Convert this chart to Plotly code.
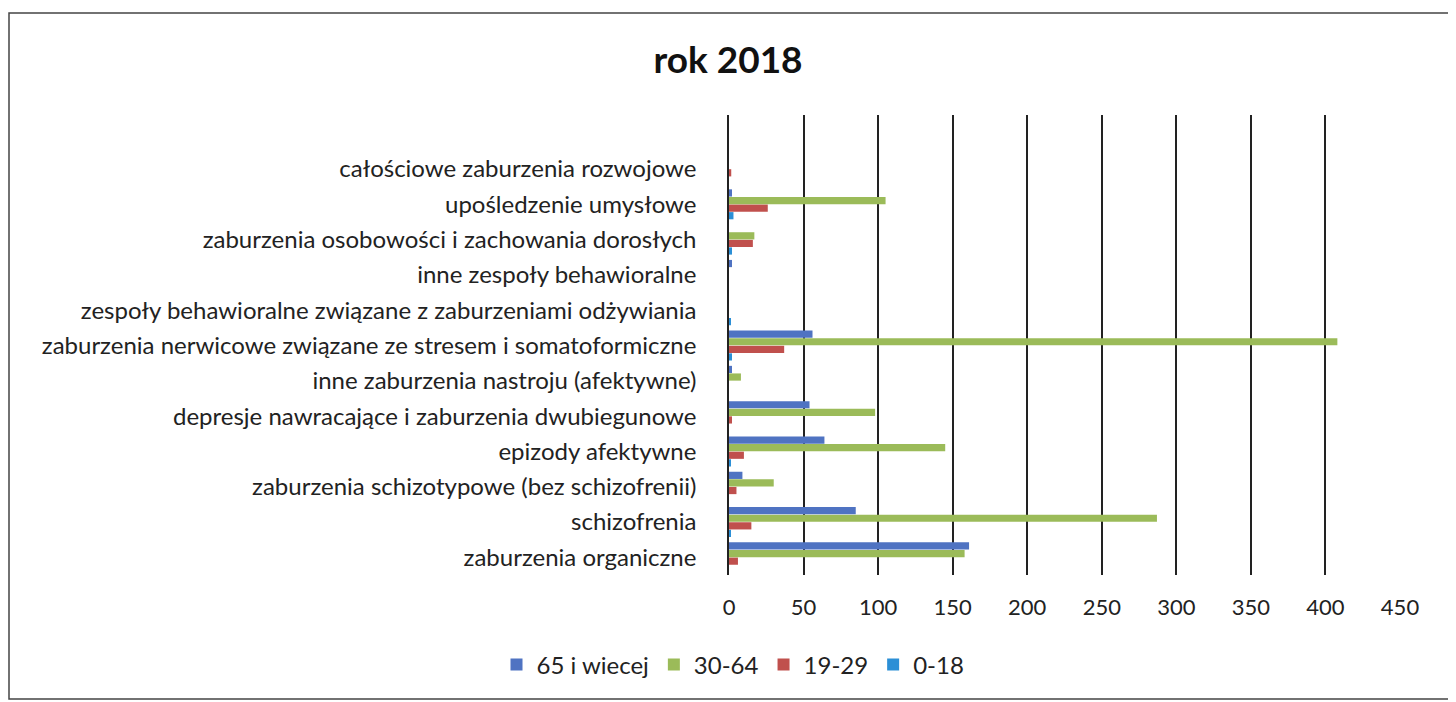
import plotly.graph_objects as go

categories = [
    "zaburzenia organiczne",
    "schizofrenia",
    "zaburzenia schizotypowe (bez schizofrenii)",
    "epizody afektywne",
    "depresje nawracające i zaburzenia dwubiegunowe",
    "inne zaburzenia nastroju (afektywne)",
    "zaburzenia nerwicowe związane ze stresem i somatoformiczne",
    "zespoły behawioralne związane z zaburzeniami odżywiania",
    "inne zespoły behawioralne",
    "zaburzenia osobowości i zachowania dorosłych",
    "upośledzenie umysłowe",
    "całościowe zaburzenia rozwojowe",
]
v_65 = [161, 85, 9, 64, 54, 2, 56, 0, 2, 0, 2, 0]
v_30_64 = [158, 287, 30, 145, 98, 8, 408, 0, 0, 17, 105, 0]
v_19_29 = [6, 15, 5, 10, 2, 0, 37, 0, 0, 16, 26, 1.5]
v_0_18 = [0, 1, 0, 1, 0, 0, 2, 1, 0, 2, 3, 0]

x_ticks = [0, 50, 100, 150, 200, 250, 300, 350, 400, 450]

W, H = 1456, 702
OFF = 8  # page body margin
L, R, T, B = 729 - OFF, 1400 - OFF, 115 - OFF, 575 - OFF

fig = go.Figure()
series = [
    ("0-18", v_0_18, "#2B8FD6"),
    ("19-29", v_19_29, "#C0504D"),
    ("30-64", v_30_64, "#9BBB59"),
    ("65 i wiecej", v_65, "#4F73C2"),
]
for name, vals, col in series:
    fig.add_trace(go.Bar(y=categories, x=vals, name=name, orientation="h",
                         marker=dict(color=col, line=dict(width=0))))

pw, ph = R - L, B - T
fig.add_shape(type="rect", xref="paper", yref="paper",
              x0=(8 - OFF + 1 - L) / pw, x1=(1450 - OFF - L) / pw,
              y0=(B - (699 - OFF)) / ph, y1=(B - (13 - OFF)) / ph,
              line=dict(color="#444", width=1.5), fillcolor="rgba(0,0,0,0)", layer="below")

fig.update_layout(
    width=W, height=H,
    margin=dict(l=L, r=W - R, t=T, b=H - B),
    paper_bgcolor="white", plot_bgcolor="white",
    font=dict(family="Lato, Liberation Sans, sans-serif", color="#222"),
    title=dict(text="<b>rok 2018</b>", xref="container", yref="container",
               x=(728 - OFF) / W, y=1 - (60 - OFF) / H, xanchor="center", yanchor="middle",
               font=dict(size=37, color="#111")),
    barmode="group", bargap=0.14, bargroupgap=0.05,
    showlegend=True,
    legend=dict(orientation="h", traceorder="reversed", xref="container", yref="container",
                x=(733 - OFF) / W, y=1 - (665 - OFF) / H, xanchor="center", yanchor="middle",
                font=dict(size=24), itemwidth=30),
    xaxis=dict(range=[0, 450], tickvals=x_ticks, showgrid=True, gridcolor="#222", gridwidth=1.5,
               zeroline=False, showline=False, tickfont=dict(size=22), ticks="",
               ticklabelstandoff=17),
    yaxis=dict(type="category", range=[-0.5, 12.53], showgrid=False, showline=True,
               linecolor="#222", linewidth=1.5, ticks="", tickfont=dict(size=24),
               ticklabelstandoff=26),
)

fig.write_html("out.html")
